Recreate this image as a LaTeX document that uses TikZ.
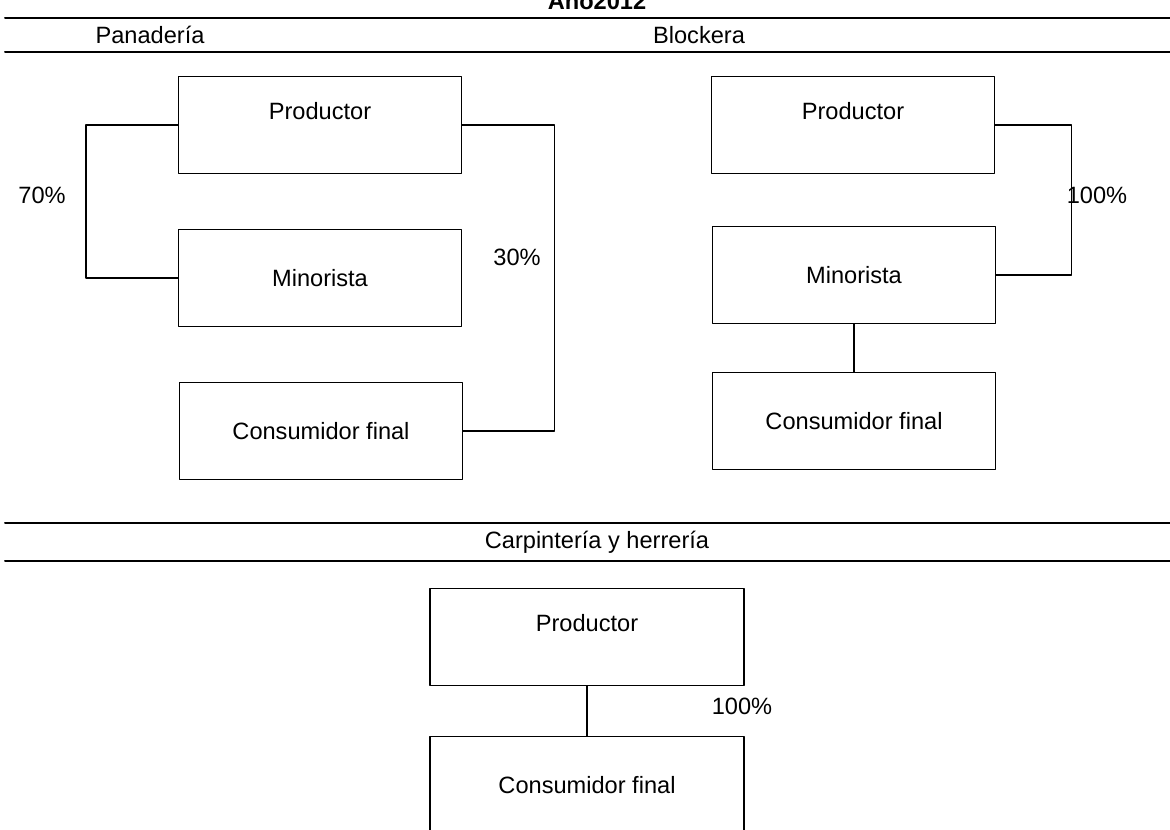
\documentclass[tikz,border=0pt]{standalone}
\usepackage{fontspec}
\setmainfont{Liberation Sans}
\begin{document}
\begin{tikzpicture}[x=0.5pt,y=-0.5pt,font=\fontsize{11.8}{14}\selectfont,line join=round,line cap=round,
  caja/.style={draw,line width=0.6pt,minimum width=141.5pt,minimum height=48.5pt,inner sep=0pt,align=center},
  sep/.style={line width=1pt}]
\useasboundingbox (0,0) rectangle (1170,829);
\node[font=\fontsize{11.8}{14}\selectfont\bfseries,anchor=base] (titulo) at (597,10) {Año2012};
\foreach \h in {18,52,523,561}
  \draw[sep] (5,\h) -- (1170,\h);
\node (hPan) at (150,35) {Panadería};
\node (hBlo) at (699,35) {Blockera};
\node (hCar) at (597,542) {Carpintería y herrería};
% Panaderia
\node[caja] (pP) at (320,125) {Productor\\ \mbox{}};
\node[caja] (pM) at (320,278) {Minorista};
\node[caja] (pC) at (321,431) {Consumidor final};
\draw[line width=0.6pt] (pP.west) -- ++(-92,0) |- (pM.west);
\draw[line width=0.6pt] (pP.east) -- ++(92,0) |- (pC.east);
\node (p70) at (42,195) {70\%};
\node (p30) at (517,257) {30\%};
% Blockera
\node[caja] (bP) at (853,125) {Productor\\ \mbox{}};
\node[caja] (bM) at (854,275) {Minorista};
\node[caja] (bC) at (854,421) {Consumidor final};
\draw[line width=0.6pt] (bP.east) -- ++(76,0) |- (bM.east);
\draw[line width=0.6pt] (bM.south) -- (bC.north);
\node (b100) at (1097,195) {100\%};
% Carpinteria y herreria
\node[caja,minimum width=157pt] (cP) at (587,637) {Productor\\ \mbox{}};
\node[caja,minimum width=157pt] (cC) at (587,785) {Consumidor final};
\draw[line width=0.6pt] (cP.south) -- (cC.north);
\node (c100) at (742,706) {100\%};
\end{tikzpicture}
\end{document}
